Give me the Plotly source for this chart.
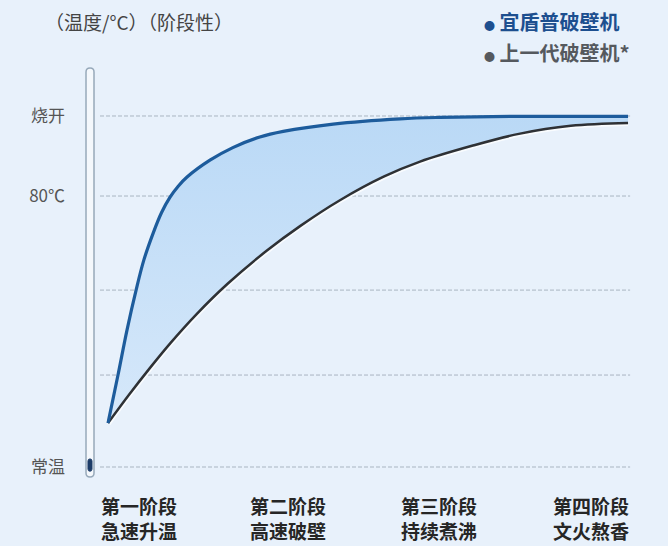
import plotly.graph_objects as go

FONT = "Noto Sans CJK SC"

# ---- data (relative time 0..100, relative temperature: 常温=0, 烧开=100) ----
blue_x = [0, 1.92, 3.65, 5.4, 6.9, 8.65, 10.3, 11.9, 13.5, 15.2, 19.6, 24.0, 29.2, 33.7, 43.3, 56.2, 63.8, 79.2, 100]
blue_y = [12.5, 26.2, 39.0, 50.4, 59.0, 66.5, 72.5, 76.8, 80.0, 82.6, 87.4, 91.0, 94.0, 95.6, 97.7, 99.2, 99.6, 99.9, 99.9]

black_x = [0, 4, 8, 12, 17, 23, 30.5, 37, 44.6, 53, 60, 70, 79, 89, 100]
black_y = [12.5, 20.5, 28.1, 35.3, 43.5, 52.2, 61.6, 68.7, 76.0, 82.7, 87.0, 91.5, 94.9, 97.2, 98.0]

grid_levels = [0, 26.2, 50.4, 77.2, 100]
ytick_vals = [0, 77.2, 100]
ytick_text = ["常温", "80℃", "烧开"]

stage_pos = [6.0, 34.6, 63.6, 92.9]
stage_names = ["第一阶段", "第二阶段", "第三阶段", "第四阶段"]
stage_desc = ["急速升温", "高速破壁", "持续煮沸", "文火熬香"]

series_names = ["宜盾普破壁机", "上一代破壁机*"]
title_text = "（温度/°C）（阶段性）"

BG = "#e8f1fb"
BLUE = "#1d5c9c"
BLACK = "#2e3135"

W, H = 668, 546
ML, MR, MT, MB = 80, 28, 60, 56
PW, PH = W - ML - MR, H - MT - MB


def px_x(p):
    return (p - ML) / PW


def px_y(p):
    return (H - MB - p) / PH


fig = go.Figure()

# soft shadow under black
fig.add_trace(go.Scatter(x=black_x, y=black_y, mode="lines",
                         line=dict(color="rgba(255,255,255,0.75)", width=6, shape="spline", smoothing=1.0),
                         hoverinfo="skip", showlegend=False))
fig.add_trace(go.Scatter(x=black_x, y=black_y, mode="lines", name=series_names[1],
                         line=dict(color=BLACK, width=2.5, shape="spline", smoothing=1.0), showlegend=False))
fig.add_trace(go.Scatter(x=blue_x, y=blue_y, mode="lines", name=series_names[0],
                         line=dict(color=BLUE, width=3.2, shape="spline", smoothing=1.0),
                         fill="tonexty",
                         fillgradient=dict(type="vertical",
                                           colorscale=[[0, "#d6e8fa"], [1, "#bad9f6"]]),
                         showlegend=False))

# gridlines
for g in grid_levels:
    fig.add_shape(type="line", x0=-1.54, x1=100.4, y0=g, y1=g, xref="x", yref="y",
                  line=dict(color="#a9b5c1", width=1, dash="4px,2px"), layer="below")

# thermometer tube
x0, x1, xc = -4.23, -2.69, -3.46
yt, yb, ry = 113.7, -2.85, 1.14
tube = (f"M {x0},{yt-ry} Q {x0},{yt} {xc},{yt} Q {x1},{yt} {x1},{yt-ry} "
        f"L {x1},{yb+ry} Q {x1},{yb} {xc},{yb} Q {x0},{yb} {x0},{yb+ry} Z")
fig.add_shape(type="path", path=tube, xref="x", yref="y",
              line=dict(color="#97a9ba", width=1.5), fillcolor="#f4f8fc", layer="below")
bx0, bx1, bxc = -3.85, -3.08, -3.465
byt, byb, bry = 2.3, -1.2, 0.6
bulb = (f"M {bx0},{byt-bry} Q {bx0},{byt} {bxc},{byt} Q {bx1},{byt} {bx1},{byt-bry} "
        f"L {bx1},{byb+bry} Q {bx1},{byb} {bxc},{byb} Q {bx0},{byb} {bx0},{byb+bry} Z")
fig.add_shape(type="path", path=bulb, xref="x", yref="y",
              line=dict(color="#1c3c68", width=1), fillcolor="#1c3c68")

# title
fig.add_annotation(text=title_text, xref="paper", yref="paper",
                   x=px_x(43), y=px_y(22), xanchor="left", yanchor="middle",
                   showarrow=False, font=dict(family=FONT, size=19, color="#444"))

# legend as annotations
legend_colors = ["#1d4f8f", "#55595e"]
legend_py = [22, 52]
for name, col, py in zip(series_names, legend_colors, legend_py):
    fig.add_annotation(text=f"<span style='font-size:11px'>●</span> <b>{name}</b>",
                       xref="paper", yref="paper",
                       x=px_x(482), y=px_y(py), xanchor="left", yanchor="middle",
                       showarrow=False, font=dict(family=FONT, size=20, color=col))

# stage labels
for xp, a, b in zip(stage_pos, stage_names, stage_desc):
    fig.add_annotation(text=f"<b>{a}</b>", x=xp, xref="x", yref="paper", y=px_y(505),
                       xanchor="center", yanchor="middle", showarrow=False,
                       font=dict(family=FONT, size=19, color="#262626"))
    fig.add_annotation(text=f"<b>{b}</b>", x=xp, xref="x", yref="paper", y=px_y(530),
                       xanchor="center", yanchor="middle", showarrow=False,
                       font=dict(family=FONT, size=19, color="#262626"))

fig.update_layout(
    width=W, height=H,
    margin=dict(l=ML, r=MR, t=MT, b=MB),
    paper_bgcolor=BG, plot_bgcolor=BG,
    font=dict(family=FONT),
    xaxis=dict(range=[-5.385, 102.3], showgrid=False, zeroline=False, showline=False,
               showticklabels=False, ticks=""),
    yaxis=dict(range=[-6.55, 115.95], showgrid=False, zeroline=False, showline=False,
               tickvals=ytick_vals, ticktext=ytick_text, ticks="",
               tickfont=dict(family=FONT, size=17, color="#555"),
               ticklabelstandoff=14),
)

fig.write_html("out.html", config={"displayModeBar": False},
               post_script="document.body.style.margin='0px';document.body.style.background='#e8f1fb';")
